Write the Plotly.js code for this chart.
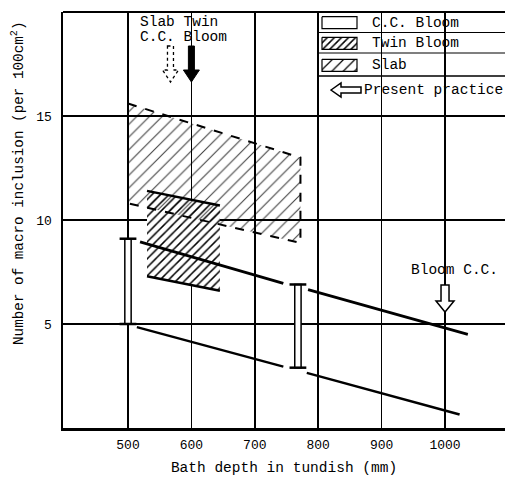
<!DOCTYPE html>
<html>
<head>
<meta charset="utf-8">
<script src="https://cdn.plot.ly/plotly-3.0.1.min.js"></script>
<style>html,body{margin:0;padding:0;background:#fff;}#chart{width:505px;height:478px;}</style>
</head>
<body>
<div id="chart"></div>
<script>
// ---- data ----
const xTicks = [500, 600, 700, 800, 900, 1000];
const yTicks = [5, 10, 15];

// Slab region (dashed outline)
const slabX = [500, 772];
const slabTop = [15.6, 13.0];
const slabBottom = [10.8, 8.9];

// Twin Bloom region (hatched)
const twinX = [530, 645];
const twinTop = [11.4, 10.7];
const twinBottom = [7.3, 6.6];

// C.C. Bloom ranges
const bloomX = [500, 768];
const bloomLow = [5.0, 2.9];
const bloomHigh = [9.1, 6.9];

// trend lines (two segments each)
const upper1X = [519, 745], upper1Y = [8.95, 6.95];
const upper2X = [784, 1036], upper2Y = [6.65, 4.5];
const lower1X = [514, 745], lower1Y = [4.85, 2.95];
const lower2X = [782, 1023], lower2Y = [2.65, 0.65];

// legend entries
const legendNames = ['C.C. Bloom', 'Twin Bloom', 'Slab'];

const FONT = 'Liberation Mono, Courier New, monospace';

const twinPattern = { shape: '/', size: 6, solidity: 0.25, fgcolor: 'black', bgcolor: 'white' };
const slabPattern = { shape: '/', size: 9, solidity: 0.12, fgcolor: 'rgba(0,0,0,0.75)', bgcolor: 'rgba(255,255,255,0)' };

function poly(xs, top, bot) {
  return {
    x: [xs[0], xs[1], xs[1], xs[0], xs[0]],
    y: [top[0], top[1], bot[1], bot[0], top[0]]
  };
}
const slabP = poly(slabX, slabTop, slabBottom);
const twinP = poly(twinX, twinTop, twinBottom);

// pixel -> paper helpers for decorations
const T = 12, B = 428, L = 63, R = 505;
const py = p => 1 - (p - T) / (B - T);
const px = p => (p - L) / (R - L);

// legend rows (pixel centres) and swatch geometry
const rowC = [22.7, 43.3, 65.3];
function swatch(i) {
  const c = rowC[i], x0 = 322, x1 = 357, h = 6;
  return { x: [x0, x1, x1, x0, x0], y: [c - h, c - h, c + h, c + h, c - h] };
}

const traces = [
  { type: 'bar', x: bloomX, base: bloomLow,
    y: bloomHigh.map((h, i) => h - bloomLow[i]), width: 10,
    marker: { color: 'white', line: { color: 'black', width: 1.5 } }, hoverinfo: 'skip' },
  { type: 'scatter', mode: 'lines', x: twinP.x, y: twinP.y,
    fill: 'toself', fillcolor: 'rgba(0,0,0,0)', fillpattern: twinPattern,
    line: { color: 'black', width: 0.01 } },
  { type: 'scatter', mode: 'lines', x: slabP.x, y: slabP.y,
    fill: 'toself', fillcolor: 'rgba(0,0,0,0)', fillpattern: slabPattern,
    line: { color: 'black', width: 2, dash: 'dash' } },
  { type: 'scatter', mode: 'lines', x: twinX, y: twinTop, line: { color: 'black', width: 2.5 } },
  { type: 'scatter', mode: 'lines', x: twinX, y: twinBottom, line: { color: 'black', width: 2.5 } },
  { type: 'scatter', mode: 'markers',
    x: bloomX.concat(bloomX), y: bloomHigh.concat(bloomLow),
    marker: { symbol: 'line-ew', size: 12, line: { color: 'black', width: 2.5 } } },
  { type: 'scatter', mode: 'lines', x: upper1X, y: upper1Y, line: { color: 'black', width: 2.8 } },
  { type: 'scatter', mode: 'lines', x: upper2X, y: upper2Y, line: { color: 'black', width: 2.8 } },
  { type: 'scatter', mode: 'lines', x: lower1X, y: lower1Y, line: { color: 'black', width: 2.4 } },
  { type: 'scatter', mode: 'lines', x: lower2X, y: lower2Y, line: { color: 'black', width: 2.4 } }
];

// legend swatches on a pixel-scaled overlay axis pair
const sw0 = swatch(0), sw1 = swatch(1), sw2 = swatch(2);
traces.push(
  { type: 'scatter', mode: 'lines', xaxis: 'x2', yaxis: 'y2', x: sw0.x, y: sw0.y,
    fill: 'toself', fillcolor: 'white', line: { color: 'black', width: 1.2 } },
  { type: 'scatter', mode: 'lines', xaxis: 'x2', yaxis: 'y2', x: sw1.x, y: sw1.y,
    fill: 'toself', fillcolor: 'rgba(0,0,0,0)', fillpattern: { shape: '/', size: 5, solidity: 0.3, fgcolor: 'black', bgcolor: 'white' },
    line: { color: 'black', width: 1.2 } },
  { type: 'scatter', mode: 'lines', xaxis: 'x2', yaxis: 'y2', x: sw2.x, y: sw2.y,
    fill: 'toself', fillcolor: 'rgba(0,0,0,0)', fillpattern: { shape: '/', size: 8, solidity: 0.15, fgcolor: 'black', bgcolor: 'white' },
    line: { color: 'black', width: 1.2 } }
);

const downArrow = 'M -3,36 L 3,36 L 3,12 L 8,12 L 0,0 L -8,12 L -3,12 Z';
const bigDown = 'M -4,27 L 4,27 L 4,11 L 9,11 L 0,0 L -9,11 L -4,11 Z';
const leftArrow = 'M 0,0 L 10,7 L 10,3 L 30,3 L 30,-3 L 10,-3 L 10,-7 Z';

const shapes = [
  // white cover for legend / "present practice" area (above grid, below traces)
  { type: 'rect', xref: 'paper', yref: 'paper', x0: px(319), x1: 1.02, y0: py(105), y1: 1,
    fillcolor: 'white', line: { width: 0 }, layer: 'between' },
  // gap in the 600 gridline under the labels/arrow
  { type: 'rect', xref: 'x', yref: 'paper', xsizemode: 'pixel', xanchor: 600, x0: -2, x1: 2,
    y0: py(90), y1: 0.999, fillcolor: 'white', line: { width: 0 }, layer: 'between' },
  // legend box
  { type: 'rect', xref: 'paper', yref: 'paper', x0: px(318), x1: 1.05, y0: py(76), y1: 1,
    line: { color: 'black', width: 1.5 }, fillcolor: 'rgba(0,0,0,0)', layer: 'above' },
  { type: 'line', xref: 'paper', yref: 'paper', x0: px(318), x1: 1.05, y0: py(32.5), y1: py(32.5),
    line: { color: 'black', width: 1.2 }, layer: 'above' },
  { type: 'line', xref: 'paper', yref: 'paper', x0: px(318), x1: 1.05, y0: py(53), y1: py(53),
    line: { color: 'black', width: 1.2 }, layer: 'above' },
  // top frame
  { type: 'line', xref: 'paper', yref: 'paper', x0: 0, x1: 1.05, y0: 1, y1: 1,
    line: { color: 'black', width: 2 }, layer: 'above' },
  // arrows
  { type: 'path', xref: 'x', yref: 'paper', xsizemode: 'pixel', ysizemode: 'pixel',
    xanchor: 600, yanchor: py(82), path: downArrow,
    fillcolor: 'black', line: { color: 'black', width: 1 }, layer: 'above' },
  { type: 'path', xref: 'x', yref: 'paper', xsizemode: 'pixel', ysizemode: 'pixel',
    xanchor: 567, yanchor: py(82), path: downArrow,
    fillcolor: 'white', line: { color: 'black', width: 1.3, dash: 'dot' }, layer: 'above' },
  { type: 'path', xref: 'x', yref: 'paper', xsizemode: 'pixel', ysizemode: 'pixel',
    xanchor: 1000, yanchor: py(312), path: bigDown,
    fillcolor: 'white', line: { color: 'black', width: 1.5 }, layer: 'above' },
  { type: 'path', xref: 'paper', yref: 'paper', xsizemode: 'pixel', ysizemode: 'pixel',
    xanchor: px(331), yanchor: py(90), path: leftArrow,
    fillcolor: 'white', line: { color: 'black', width: 1.5 }, layer: 'above' }
];

const tf = { family: FONT, size: 14.5, color: 'black' };
const annotations = [
  { xref: 'paper', yref: 'paper', x: px(138), y: py(22), xanchor: 'left', yanchor: 'middle',
    text: 'Slab Twin', showarrow: false, font: tf },
  { xref: 'paper', yref: 'paper', x: px(138), y: py(37), xanchor: 'left', yanchor: 'middle',
    text: 'C.C. Bloom', showarrow: false, font: tf },
  { xref: 'paper', yref: 'paper', x: px(362), y: py(90), xanchor: 'left', yanchor: 'middle',
    text: 'Present practice', showarrow: false, font: tf },
  { xref: 'paper', yref: 'paper', x: px(454), y: py(270), xanchor: 'center', yanchor: 'middle',
    text: 'Bloom C.C.', showarrow: false, font: tf },
  { xref: 'paper', yref: 'paper', x: px(18), y: py(184), xanchor: 'center', yanchor: 'middle',
    textangle: -90, text: 'Number of macro inclusion (per 100cm<sup>2</sup>)', showarrow: false,
    font: { family: FONT, size: 14.3, color: 'black' } }
];
legendNames.forEach((n, i) => annotations.push({
  xref: 'paper', yref: 'paper', x: px(370), y: py(rowC[i]), xanchor: 'left', yanchor: 'middle',
  text: n, showarrow: false, font: tf
}));

const layout = {
  width: 505, height: 478,
  margin: { l: 63, r: 0, t: 12, b: 50 },
  paper_bgcolor: 'white', plot_bgcolor: 'white',
  showlegend: false,
  xaxis: {
    range: [397.5, 1094.6], tickvals: xTicks, ticktext: xTicks.map(String),
    showgrid: true, gridcolor: 'black', gridwidth: 1.5, zeroline: false,
    showline: true, linecolor: 'black', linewidth: 2.5, mirror: false,
    ticks: '', ticklabelstandoff: 3, tickfont: { family: FONT, size: 13, color: 'black' },
    title: { text: 'Bath depth in tundish (mm)', font: tf, standoff: 10 }
  },
  yaxis: {
    range: [0, 20], tickvals: yTicks, ticktext: yTicks.map(String),
    showgrid: true, gridcolor: 'black', gridwidth: 1.5, zeroline: false,
    showline: true, linecolor: 'black', linewidth: 2.5,
    ticks: '', ticklabelstandoff: 6, tickfont: { family: FONT, size: 13, color: 'black' }
  },
  xaxis2: { overlaying: 'x', range: [L, R], visible: false, showgrid: false, zeroline: false },
  yaxis2: { overlaying: 'y', range: [B, T], visible: false, showgrid: false, zeroline: false },
  shapes: shapes,
  annotations: annotations,
  bargap: 0
};

Plotly.newPlot('chart', traces, layout, { staticPlot: true, displayModeBar: false });
</script>
</body>
</html>
